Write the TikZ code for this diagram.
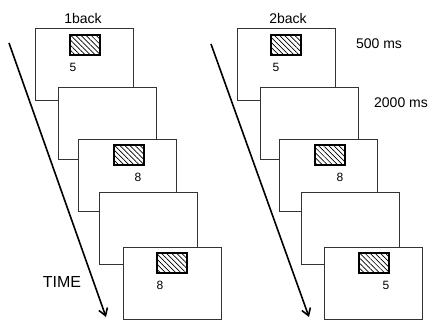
\documentclass[tikz,border=0pt]{standalone}
\usepackage{fontspec}
\setmainfont{Liberation Sans}
\usepackage{tikz}
\usetikzlibrary{patterns.meta,arrows.meta}

\begin{document}
\begin{tikzpicture}[x=1pt, y=-1pt,
	frame/.style={draw=black!80, line width=0.8pt, fill=white, minimum width=98pt, minimum height=72pt, inner sep=0pt},
	stim/.style={draw=black, line width=1.8pt, pattern={Lines[angle=-45, distance=3.6pt, line width=0.7pt]}, minimum width=30pt, minimum height=20pt, inner sep=0pt},
	digit/.style={font=\fontsize{12}{14}\selectfont, inner sep=0pt},
	lbl/.style={font=\fontsize{14}{16}\selectfont, inner sep=0pt},
	timeline/.style={line width=1.6pt, -{Straight Barb[length=7pt, width=9pt]}}]
	\useasboundingbox (0,0) rectangle (429,321);
	% 1back
	\node[frame] (a1) at (84, 64) {};
	\node[frame] (a2) at (107, 123) {};
	\node[frame] (a3) at (127, 175) {};
	\node[frame] (a4) at (148, 228) {};
	\node[frame] (a5) at (172, 283) {};
	\node[stim] (sa1) at (85, 45) {};
	\node[stim] (sa3) at (129, 155) {};
	\node[stim] (sa5) at (172, 263) {};
	\node[digit] (na1) at (73, 67) {5};
	\node[digit] (na3) at (138, 177) {8};
	\node[digit] (na5) at (160, 285) {8};
	\node[lbl] (back1) at (83, 18) {1back};
	\node[font=\fontsize{16}{18}\selectfont, inner sep=0pt] (time) at (62, 282) {TIME};
	\coordinate (ta) at (9, 43);
	\coordinate (tb) at (106, 317);
	\draw[timeline] (ta) -- (tb);
	% 2back
	\node[frame] (b1) at (286, 64) {};
	\node[frame] (b2) at (309, 123) {};
	\node[frame] (b3) at (328, 175) {};
	\node[frame] (b4) at (350, 228) {};
	\node[frame] (b5) at (373, 283) {};
	\node[stim] (sb1) at (286, 45) {};
	\node[stim] (sb3) at (330, 155) {};
	\node[stim] (sb5) at (374, 263) {};
	\node[digit] (nb1) at (276, 67) {5};
	\node[digit] (nb3) at (340, 177) {8};
	\node[digit] (nb5) at (386, 285) {5};
	\node[lbl] (back2) at (288, 18) {2back};
	\node[lbl] (ms500) at (379, 44) {500 ms};
	\node[lbl] (ms2000) at (401, 103) {2000 ms};
	\coordinate (tc) at (211, 44);
	\coordinate (td) at (309, 317);
	\draw[timeline] (tc) -- (td);
\end{tikzpicture}
\end{document}
